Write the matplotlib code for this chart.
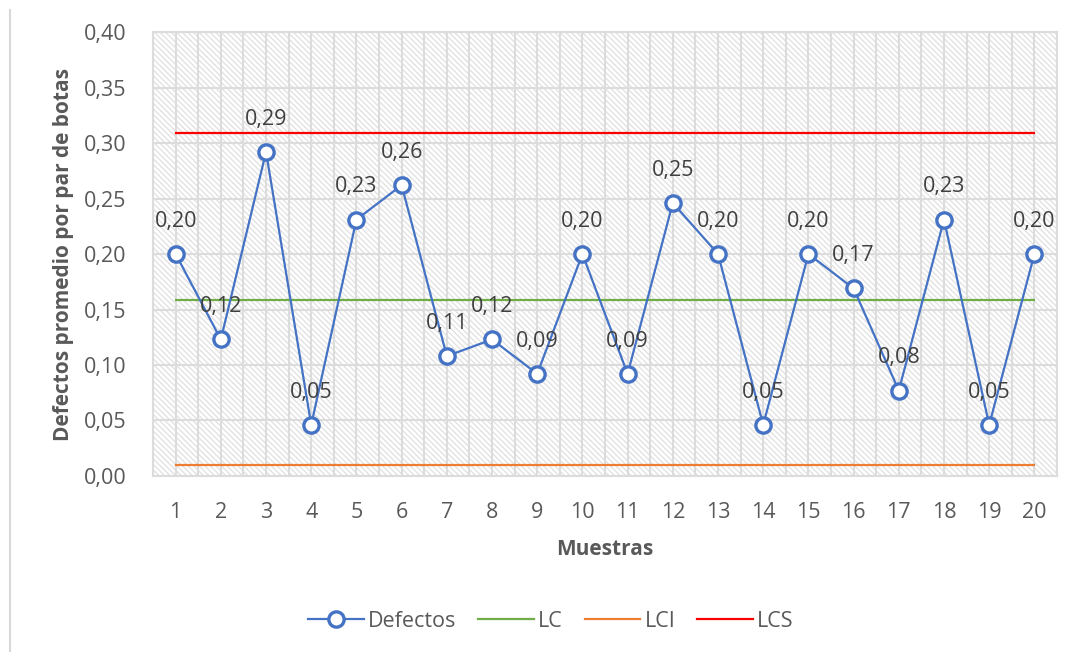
import matplotlib
matplotlib.use("Agg")
import matplotlib.pyplot as plt
from matplotlib.patches import Rectangle
from matplotlib.lines import Line2D
from matplotlib.ticker import MultipleLocator, FuncFormatter

muestras = list(range(1, 21))
defectos = [0.200, 0.123, 0.292, 0.046, 0.231, 0.262, 0.108, 0.123, 0.092, 0.200,
            0.092, 0.246, 0.200, 0.046, 0.200, 0.169, 0.077, 0.231, 0.046, 0.200]
lc = 0.159
lci = 0.010
lcs = 0.309

plt.rcParams['font.family'] = ['Open Sans', 'DejaVu Sans']
plt.rcParams['hatch.linewidth'] = 0.9

fig = plt.figure(figsize=(10.8, 6.56), dpi=100)
ax = fig.add_axes([0.1417, 0.2744, 0.837, 0.6768])

ax.set_xlim(0.5, 20.5)
ax.set_ylim(0, 0.40)

# hatched plot-area background
ax.add_patch(Rectangle((0, 0), 1, 1, transform=ax.transAxes, facecolor='white',
                       edgecolor='#e0e0e0', linewidth=0, hatch='\\\\\\\\\\\\', zorder=0))

grid_c = '#dcdcdc'
ax.yaxis.set_major_locator(MultipleLocator(0.05))
ax.xaxis.set_major_locator(MultipleLocator(1))
ax.xaxis.set_minor_locator(MultipleLocator(0.5))
ax.yaxis.set_major_formatter(FuncFormatter(lambda v, p: f"{v:.2f}".replace('.', ',')))
ax.set_xticks(muestras)
ax.set_xticklabels([str(m) for m in muestras])
ax.grid(which='major', axis='y', color=grid_c, lw=1.5, zorder=1)
ax.grid(which='both', axis='x', color=grid_c, lw=1.5, zorder=1)
ax.tick_params(which='both', length=0)
ax.tick_params(axis='y', pad=19, labelsize=15.5, labelcolor='#595959')
ax.tick_params(axis='x', pad=19, labelsize=15.5, labelcolor='#595959')
for s in ax.spines.values():
    s.set_color(grid_c)
    s.set_linewidth(1.5)

x0, x1 = muestras[0], muestras[-1]
ax.plot([x0, x1], [lc, lc], color='#70AD47', lw=1.6, zorder=3)
ax.plot([x0, x1], [lci, lci], color='#ED7D31', lw=1.6, zorder=3)
ax.plot([x0, x1], [lcs, lcs], color='#FF0000', lw=1.6, zorder=3)
ax.plot(muestras, defectos, color='#4472C4', lw=1.6, marker='o', markersize=11,
        markerfacecolor='white', markeredgecolor='#4472C4', markeredgewidth=2.4, zorder=4)

for xm, v in zip(muestras, defectos):
    ax.annotate(f"{v:.2f}".replace('.', ','), (xm, v), xytext=(0, 16),
                textcoords='offset points', ha='center', va='bottom',
                fontsize=15.5, color='#404040', zorder=5)

ax.set_ylabel('Defectos promedio por par de botas', fontsize=15, fontweight='bold',
              color='#595959', labelpad=7)
ax.set_xlabel('Muestras', fontsize=15, fontweight='bold', color='#595959', labelpad=11)

handles = [
    Line2D([], [], color='#4472C4', lw=1.6, marker='o', markersize=11,
           markerfacecolor='white', markeredgecolor='#4472C4', markeredgewidth=2.4),
    Line2D([], [], color='#70AD47', lw=1.6),
    Line2D([], [], color='#ED7D31', lw=1.6),
    Line2D([], [], color='#FF0000', lw=1.6),
]
fig.legend(handles, ['Defectos', 'LC', 'LCI', 'LCS'], loc='center',
           bbox_to_anchor=(0.51, 0.053), ncol=4, frameon=False, fontsize=15.5,
           labelcolor='#595959', handlelength=2.6, columnspacing=1.0, handletextpad=0.2)

# left edge of the chart frame
fig.add_artist(Line2D([0.009, 0.009], [0.008, 0.985], transform=fig.transFigure,
                      color='#d9d9d9', lw=1.5))

fig.savefig('out.png', dpi=100)
